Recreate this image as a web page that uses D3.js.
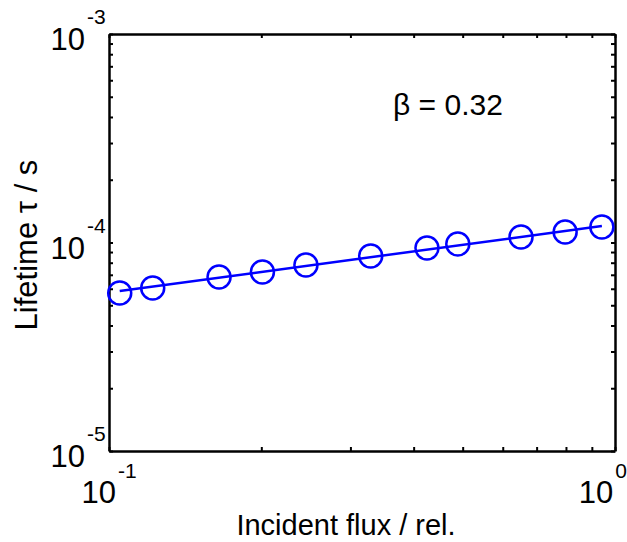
<!DOCTYPE html>
<html>
<head>
<meta charset="utf-8">
<script src="https://cdn.jsdelivr.net/npm/d3@7"></script>
<style>
  body { margin: 0; background: #fff; }
  text { font-family: "Liberation Sans", Arial, sans-serif; fill: #000; }
</style>
</head>
<body>
<div id="chart"></div>
<script>
// data
var fluxValues = [0.105, 0.122, 0.165, 0.201, 0.245, 0.329, 0.425, 0.489, 0.652, 0.797, 0.942];
var lifetimeValues = [5.73e-5, 6.05e-5, 6.84e-5, 7.22e-5, 7.80e-5, 8.62e-5, 9.41e-5, 9.84e-5, 1.062e-4, 1.123e-4, 1.187e-4];
var fitFlux = [0.105, 0.942];
var fitLifetime = [5.85e-5, 1.2e-4];
var xTickExps = [-1, 0];
var yTickExps = [-5, -4, -3];
var betaLabel = "β = 0.32";

var svgWidth = 627;
var svgHeight = 542;

var margin = { top: 34, right: 12, bottom: 91, left: 109 };
var width = svgWidth - margin.left - margin.right;
var height = svgHeight - margin.top - margin.bottom;

var svg = d3.select("#chart")
    .append("svg")
    .attr("width", svgWidth)
    .attr("height", svgHeight);

var chartGroup = svg.append("g")
    .attr("transform", `translate(${margin.left}, ${margin.top})`);

var xScale = d3.scaleLog().domain([0.1, 1]).range([0, width]);
var yScale = d3.scaleLog().domain([1e-5, 1e-3]).range([height, 0]);

var xTicks = xScale.ticks();
var yTicks = yScale.ticks();

// ticks pointing inward on all four sides
function styleAxis(g) {
    g.select(".domain").attr("stroke-width", 2.5);
    g.selectAll(".tick line").attr("stroke-width", 2);
}

chartGroup.append("g")
    .attr("transform", `translate(0, ${height})`)
    .call(d3.axisBottom(xScale).tickValues(xTicks).tickSize(-4).tickSizeOuter(0).tickFormat(""))
    .call(styleAxis);
chartGroup.append("g")
    .call(d3.axisTop(xScale).tickValues(xTicks).tickSize(-4).tickSizeOuter(0).tickFormat(""))
    .call(styleAxis);
chartGroup.append("g")
    .call(d3.axisLeft(yScale).tickValues(yTicks).tickSize(-4).tickSizeOuter(0).tickFormat(""))
    .call(styleAxis);
chartGroup.append("g")
    .attr("transform", `translate(${width}, 0)`)
    .call(d3.axisRight(yScale).tickValues(yTicks).tickSize(-4).tickSizeOuter(0).tickFormat(""))
    .call(styleAxis);

// y tick labels: 10 with superscript
yTickExps.forEach(function(e) {
    var yp = yScale(Math.pow(10, e));
    chartGroup.append("text")
        .attr("x", -24)
        .attr("y", yp + 16)
        .attr("text-anchor", "end")
        .style("font-size", "31px")
        .text("10");
    chartGroup.append("text")
        .attr("x", -22)
        .attr("y", yp - 10)
        .style("font-size", "21px")
        .text(String(e));
});

// x tick labels, centered on tick and kept inside the window
xTickExps.forEach(function(e) {
    var xp = xScale(Math.pow(10, e));
    var lab = chartGroup.append("g");
    var base = lab.append("text")
        .attr("x", 0)
        .attr("y", 52)
        .style("font-size", "31px")
        .text("10");
    var bw = base.node().getComputedTextLength();
    var sup = lab.append("text")
        .attr("x", bw + 2)
        .attr("y", 27)
        .style("font-size", "21px")
        .text(String(e));
    var total = bw + 2 + sup.node().getComputedTextLength();
    var left = xp - total / 2;
    var maxLeft = svgWidth - margin.left - total;
    if (left > maxLeft) left = maxLeft;
    lab.attr("transform", `translate(${left}, ${height})`);
});

// fit line
var fitData = fitFlux.map(function(f, i) { return { x: f, y: fitLifetime[i] }; });
chartGroup.append("path")
    .datum(fitData)
    .attr("d", d3.line().x(d => xScale(d.x)).y(d => yScale(d.y)))
    .attr("fill", "none")
    .attr("stroke", "#0000ff")
    .attr("stroke-width", 2.5);

// data markers
chartGroup.selectAll("circle.pt")
    .data(fluxValues)
    .enter()
    .append("circle")
    .attr("class", "pt")
    .attr("cx", d => xScale(d))
    .attr("cy", (d, i) => yScale(lifetimeValues[i]))
    .attr("r", 11.5)
    .attr("fill", "none")
    .attr("stroke", "#0000ff")
    .attr("stroke-width", 2.5);

// annotation
chartGroup.append("text")
    .attr("x", 284)
    .attr("y", 81)
    .style("font-size", "30px")
    .text(betaLabel);

// axis titles
svg.append("text")
    .attr("x", 346)
    .attr("y", 535)
    .attr("text-anchor", "middle")
    .style("font-size", "29px")
    .text("Incident flux / rel.");

svg.append("text")
    .attr("transform", "rotate(-90)")
    .attr("x", -245)
    .attr("y", 37)
    .attr("text-anchor", "middle")
    .style("font-size", "31px")
    .text("Lifetime τ / s");
</script>
</body>
</html>
